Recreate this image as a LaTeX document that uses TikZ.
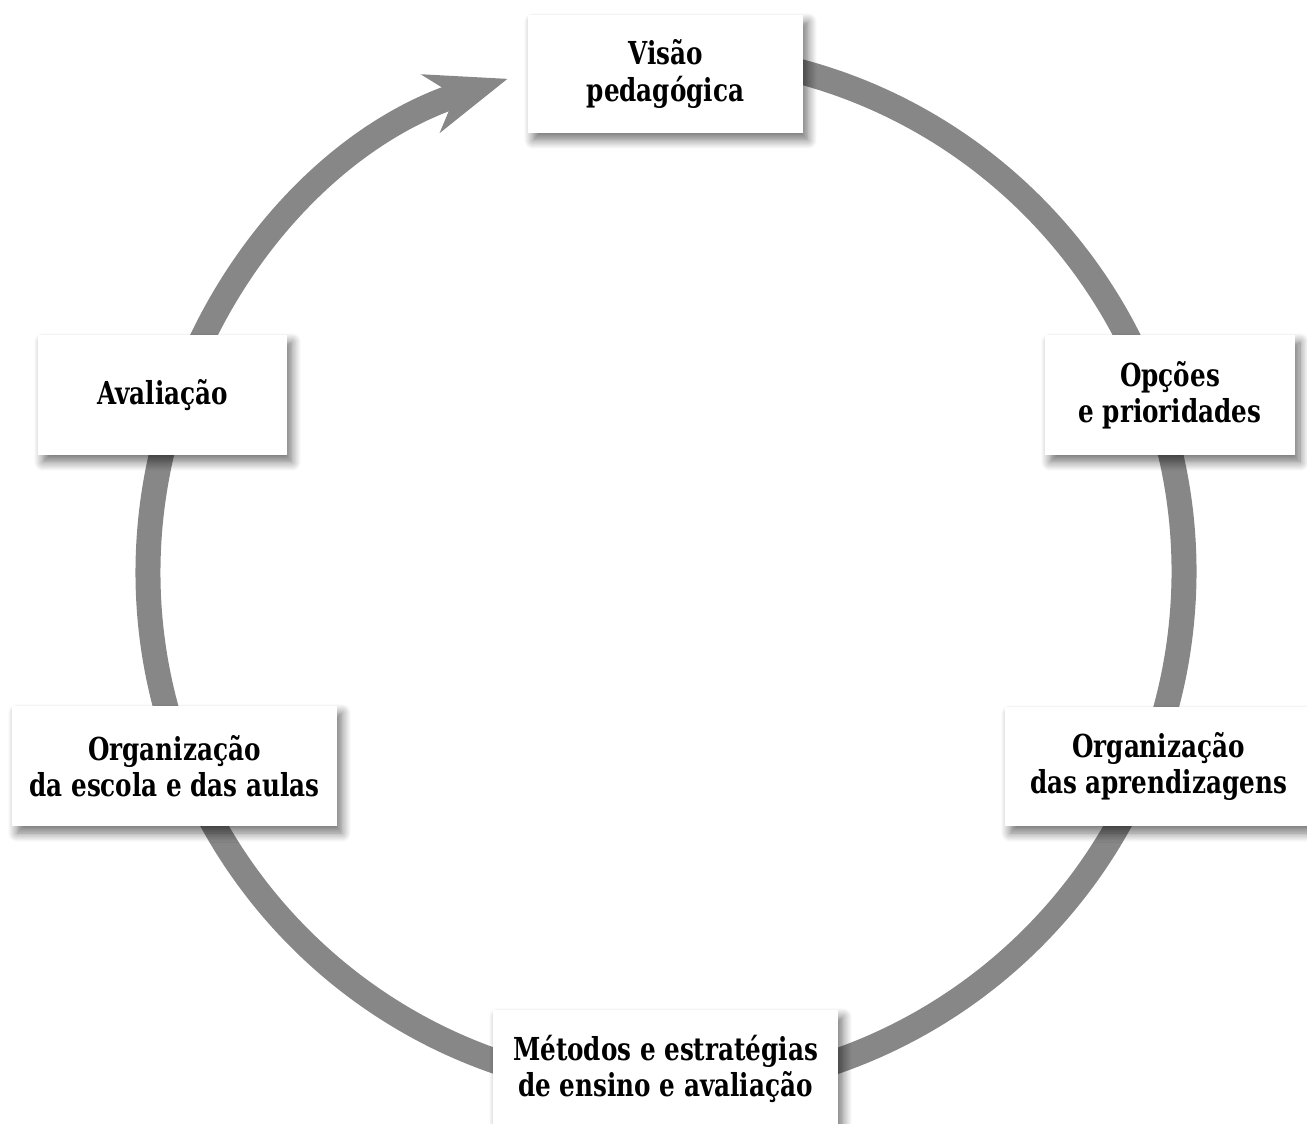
\documentclass[tikz,border=0pt]{standalone}
\usepackage{fontspec}
\setmainfont{DejaVu Serif}[FakeStretch=0.78]
\usetikzlibrary{arrows.meta,shadows.blur}

\tikzset{
  etapa/.style={fill=white,inner sep=0pt,align=center,
    font=\bfseries\fontsize{18pt}{20.5pt}\selectfont,
    blur shadow={shadow xshift=0.1cm,shadow yshift=-0.14cm,
      shadow blur radius=0.18cm,shadow blur steps=10,shadow opacity=55}},
  anel/.style={line width=0.5cm,draw=black!47}
}

\begin{document}
\begin{tikzpicture}[x=0.02cm,y=0.02cm]
  \useasboundingbox (0,0) rectangle (1307,-1124);
  \coordinate (hub) at (666,-572);
  % ring, clockwise, ending in the arrow next to the first box
  \draw[anel,-{Stealth[length=1.6cm,width=1.2cm,inset=0.5cm]}]
    (hub) ++(85:518) arc[start angle=85,end angle=-252.2,radius=518];
  \node[etapa,minimum width=5.5cm,minimum height=2.36cm] (visao)
    at (665.5,-74) {Visão\\pedagógica};
  \node[etapa,minimum width=5cm,minimum height=2.4cm] (opcoes)
    at (1170,-395) {Opções\\e prioridades};
  \node[etapa,minimum width=6.14cm,minimum height=2.38cm] (orgaprend)
    at (1158.5,-766.5) {Organização\\das aprendizagens};
  \node[etapa,minimum width=6.9cm,minimum height=2.36cm] (metodos)
    at (665.5,-1069) {Métodos e estratégias\\de ensino e avaliação};
  \node[etapa,minimum width=6.5cm,minimum height=2.4cm] (orgescola)
    at (174.5,-766) {Organização\\da escola e das aulas};
  \node[etapa,minimum width=4.98cm,minimum height=2.4cm] (avaliacao)
    at (162.5,-395) {Avaliação};
\end{tikzpicture}
\end{document}
